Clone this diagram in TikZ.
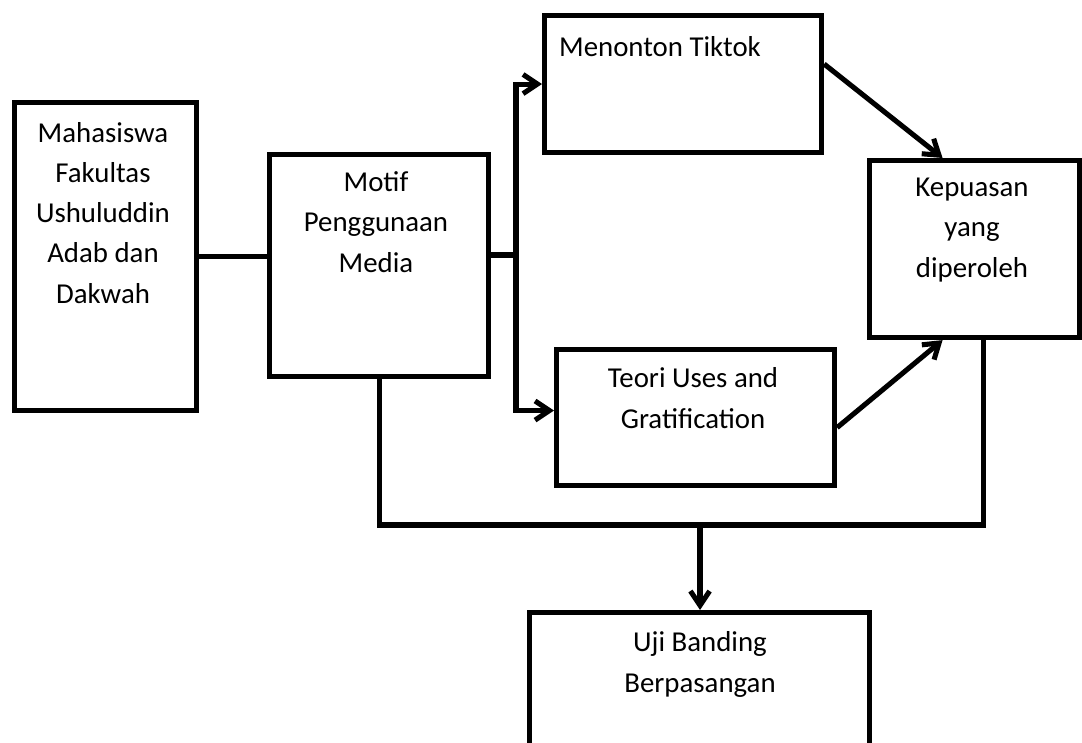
\documentclass[tikz,border=0pt]{standalone}
\usepackage{fontspec}
\setmainfont{Carlito}
\usetikzlibrary{arrows.meta, positioning}

\begin{document}
\begin{tikzpicture}[
    x=0.025cm, y=-0.025cm,
    box/.style={rectangle, draw=black, line width=3.6pt, inner sep=0pt, anchor=north west},
    txt/.style={font=\fontsize{20.5}{28.5}\selectfont, align=center, anchor=base, inner sep=0pt},
    line/.style={line width=3.6pt, color=black},
    arrow/.style={line, -{Straight Barb[length=3.6mm, width=4.8mm]}},
]
\useasboundingbox (0,0) rectangle (1082,742);

% Boxes
\node[box, minimum width=4.55cm, minimum height=7.7cm] (mhs) at (12,100) {};
\node[box, minimum width=5.475cm, minimum height=5.55cm] (motif) at (267,152) {};
\node[box, minimum width=6.925cm, minimum height=3.425cm] (tiktok) at (542,13) {};
\node[box, minimum width=6.95cm, minimum height=3.4cm] (teori) at (554,347) {};
\node[box, minimum width=5.25cm, minimum height=4.425cm] (puas) at (867,158) {};
\node[box, minimum width=8.5cm, minimum height=4cm] (uji) at (527,610) {};

% Texts (base = last line)
\node[txt] (mhs-t) at (103,303) {Mahasiswa\\Fakultas\\Ushuluddin\\Adab dan\\Dakwah};
\node[txt] (motif-t) at (376,272) {Motif\\Penggunaan\\Media};
\node[txt] (tiktok-t) at (660,57) {Menonton Tiktok};
\node[txt] (teori-t) at (693,428) {Teori Uses and\\Gratification};
\node[txt] (puas-t) at (972,277) {Kepuasan\\yang\\diperoleh};
\node[txt] (uji-t) at (700,692) {Uji Banding\\Berpasangan};

% Connectors
\coordinate (split) at (516,255);
\coordinate (bus) at (700,525);
\draw[line] (mhs.east) -- (mhs.east -| motif.west);
\draw[line] (split -| motif.east) -- (split);
\draw[arrow] (split) |- (tiktok.west);
\draw[arrow] (split) |- ([yshift=0.175cm]teori.west);
\draw[arrow] ([yshift=0.5cm]tiktok.east) -- ([xshift=-0.8cm]puas.north);
\draw[arrow] ([yshift=-0.25cm]teori.east) -- ([xshift=-0.8cm]puas.south);

% Bottom line
\draw[line] (motif.south) |- (bus) -| ([xshift=0.225cm]puas.south);
\draw[arrow] (bus) -- (uji.north -| bus);

\end{tikzpicture}
\end{document}
